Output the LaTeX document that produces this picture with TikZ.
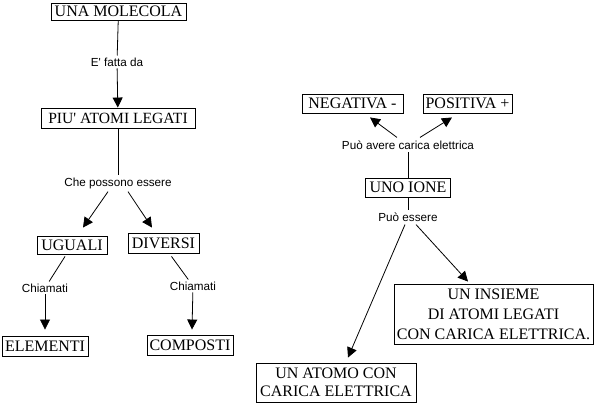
\documentclass[tikz,border=0pt]{standalone}
\usepackage{fontspec}
\setmainfont{Liberation Serif}
\newfontfamily\labfont{Liberation Sans}
\usetikzlibrary{arrows.meta,calc}
\begin{document}
\begin{tikzpicture}[x=1pt,y=-1pt,
  concept/.style={draw,line width=0.9pt,inner sep=1pt,align=center,font=\fontsize{16}{19}\selectfont},
  lab/.style={inner sep=2pt,font=\labfont\fontsize{11.7}{13}\selectfont},
  conn/.style={line width=0.8pt},
  arr/.style={line width=0.8pt,-{Triangle[width=10pt,length=10pt]}}]
\useasboundingbox[fill=white] (0,0) rectangle (606,404);
% nodes
\node[concept,minimum width=135pt,minimum height=17pt] (m) at (118.5,11.5) {UNA MOLECOLA};
\node[concept,minimum width=154pt,minimum height=20pt,font=\fontsize{15.6}{18}\selectfont] (p) at (118,118) {PIU\textquotesingle{} ATOMI LEGATI};
\node[concept,minimum width=70pt,minimum height=18pt] (ug) at (72,245) {UGUALI};
\node[concept,minimum width=71pt,minimum height=20pt] (dv) at (163.5,243) {DIVERSI};
\node[concept,minimum width=86pt,minimum height=20pt] (el) at (45,346) {ELEMENTI};
\node[concept,minimum width=86pt,minimum height=20pt] (co) at (190,345) {COMPOSTI};
\node[concept,minimum width=101pt,minimum height=19pt] (neg) at (352.5,103.5) {NEGATIVA -};
\node[concept,minimum width=89pt,minimum height=19pt] (pos) at (467.5,103.5) {POSITIVA +};
\node[concept,minimum width=85pt,minimum height=19pt] (ione) at (408,187.5) {UNO IONE};
\node[concept,minimum width=199pt,minimum height=60pt,font=\fontsize{16}{20}\selectfont] (ins) at (493.5,314) {UN INSIEME\\DI ATOMI LEGATI\\CON CARICA ELETTRICA.};
\node[concept,minimum width=160pt,minimum height=39pt,font=\fontsize{16}{18.5}\selectfont] (at) at (336,382.5) {UN ATOMO CON\\CARICA ELETTRICA};
% labels
\node[lab] (l1) at (117,62) {E\textquotesingle{} fatta da};
\node[lab] (l2) at (118,183) {Che possono essere};
\node[lab] (l3) at (45,288) {Chiamati};
\node[lab] (l4) at (193,286) {Chiamati};
\node[lab] (l5) at (408,145) {Può avere carica elettrica};
\node[lab] (l6) at (408,217) {Può essere};
% connectors
\draw[conn] (m) -- (l1);
\draw[arr] (l1) -- (p);
\draw[conn] (p) -- (l2);
\draw[arr] ($(l2.south)+(-10,1)$) -- ($(ug.north)+(11,-8)$);
\draw[arr] ($(l2.south)+(10,1)$) -- ($(dv.north)+(-11.5,-5)$);
\draw[conn] ($(ug.south)+(-7,2)$) -- (l3);
\draw[arr,shorten >=6pt] (l3) -- (el);
\draw[conn] ($(dv.south)+(8,3)$) -- (l4);
\draw[arr] (l4) -- ($(co.north)+(2,-5)$);
\draw[conn] (ione) -- (l5);
\draw[arr] ($(l5.north)+(-11,-1)$) -- ($(neg.south)+(17.5,4)$);
\draw[arr] ($(l5.north)+(12,-1)$) -- ($(pos.south)+(-15.5,4)$);
\draw[conn] (ione) -- (l6);
\draw[arr] ($(l6.south)+(-3,1)$) -- ($(at.north)+(12,-5)$);
\draw[arr] ($(l6.south)+(8,1)$) -- ($(ins.north)+(-25.5,-2)$);
\end{tikzpicture}
\end{document}
